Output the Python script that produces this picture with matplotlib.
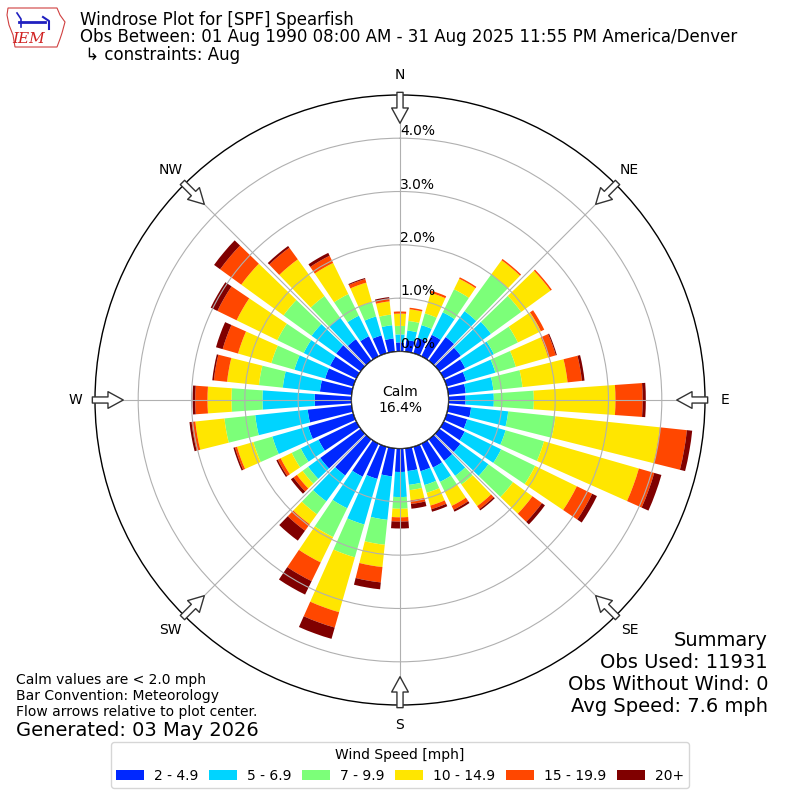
import numpy as np
import matplotlib
matplotlib.use("Agg")
import matplotlib.pyplot as plt
from matplotlib.patches import Circle, Polygon

# direction bins (degrees, meteorological "from")
directions = np.arange(0, 360, 10)

# cumulative frequency (%) at the top of each speed bin
cum_2_5 = [0.17, 0.22, 0.30, 0.45, 0.55, 0.50, 0.45, 0.38, 0.33, 0.32, 0.43, 0.40,
           0.44, 0.49, 0.50, 0.50, 0.48, 0.43, 0.44, 0.53, 0.63, 0.69, 0.84, 0.94,
           0.79, 0.88, 0.83, 0.69, 0.60, 0.55, 0.55, 0.57, 0.50, 0.42, 0.35, 0.25]
cum_5_7 = [0.32, 0.40, 0.55, 0.92, 1.15, 1.20, 1.05, 0.95, 0.85, 0.85, 1.13, 1.15,
           1.20, 1.14, 0.85, 0.80, 0.75, 0.69, 0.91, 1.35, 1.52, 1.35, 1.44, 1.22,
           1.16, 1.58, 1.82, 1.67, 1.30, 1.15, 1.10, 1.14, 1.00, 0.85, 0.72, 0.50]
cum_7_10 = [0.48, 0.58, 0.78, 1.40, 2.00, 1.90, 1.55, 1.35, 1.40, 1.60, 2.02, 1.90,
            1.91, 1.71, 1.05, 1.00, 0.90, 0.79, 1.13, 1.82, 2.16, 1.95, 1.74, 1.35,
            1.35, 1.95, 2.40, 2.25, 1.75, 1.60, 1.65, 1.79, 1.50, 1.30, 1.00, 0.70]
cum_10_15 = [0.71, 0.80, 1.18, 1.62, 2.33, 2.58, 2.03, 1.98, 2.25, 3.13, 3.99, 3.75,
             2.78, 2.16, 1.55, 1.30, 1.15, 0.98, 1.29, 2.24, 3.23, 2.48, 1.97, 1.48,
             1.58, 2.27, 2.95, 2.70, 2.35, 2.25, 2.50, 2.77, 2.35, 1.95, 1.38, 0.95]
cum_15_20 = [0.75, 0.83, 1.22, 1.65, 2.36, 2.61, 2.10, 2.13, 2.52, 3.64, 4.50, 4.05,
             3.10, 2.38, 1.62, 1.38, 1.22, 1.05, 1.37, 2.53, 3.53, 2.87, 2.12, 1.56,
             1.64, 2.31, 3.02, 2.93, 2.60, 2.55, 2.90, 3.26, 2.62, 2.10, 1.45, 1.00]
cum_20p = [0.75, 0.83, 1.22, 1.65, 2.36, 2.61, 2.10, 2.15, 2.57, 3.70, 4.60, 4.19,
           3.20, 2.45, 1.65, 1.42, 1.27, 1.14, 1.50, 2.66, 3.75, 3.15, 2.35, 1.62,
           1.67, 2.34, 3.06, 2.98, 2.63, 2.68, 3.04, 3.40, 2.66, 2.16, 1.47, 1.03]

speed_labels = ["2 - 4.9", "5 - 6.9", "7 - 9.9", "10 - 14.9", "15 - 19.9", "20+"]
colors = ["#0028ff", "#00d4ff", "#7cff79", "#ffe600", "#ff4700", "#800000"]

calm_pct = 16.4
rticks = [0, 1, 2, 3, 4]
compass = ["N", "NE", "E", "SE", "S", "SW", "W", "NW"]

fig = plt.figure(figsize=(8, 8), dpi=100)
ax = fig.add_axes([0.11875, 0.11875, 0.7625, 0.7625], projection="polar")
ax.set_theta_zero_location("N")
ax.set_theta_direction(-1)
ax.set_rorigin(-0.91)
ax.set_ylim(0, 4.81)

theta = np.radians(directions)
width = np.radians(8)
cums = [cum_2_5, cum_5_7, cum_7_10, cum_10_15, cum_15_20, cum_20p]
bottom = np.zeros(len(directions))
handles = []
for cum, color, label in zip(cums, colors, speed_labels):
    top = np.array(cum)
    b = ax.bar(theta, top - bottom, width=width, bottom=bottom, color=color,
               label=label, linewidth=0, zorder=2)
    handles.append(b)
    bottom = top

# grid on top of bars
ax.set_axisbelow(False)
ax.set_yticks(rticks)
ax.set_yticklabels([])
ax.set_xticks(np.radians(np.arange(0, 360, 45)))
ax.set_xticklabels([])
ax.grid(True, color="#b0b0b0", linewidth=0.8, zorder=3)
ax.spines["polar"].set_linewidth(1.0)

for r in rticks:
    ax.text(0, r, "%.1f%%" % r, ha="left", va="bottom", fontsize=10, zorder=6)

for i, lab in enumerate(compass):
    ang = np.radians(i * 45)
    ax.text(ang, 5.18, lab, ha="center", va="center", fontsize=10, clip_on=False)
    ax.annotate("", xy=(ang, 4.28), xytext=(ang, 4.86), xycoords="data",
                annotation_clip=False,
                arrowprops=dict(arrowstyle="simple,head_length=0.55,head_width=0.6,tail_width=0.22",
                                mutation_scale=20, facecolor="white", edgecolor="#333333",
                                linewidth=1, shrinkA=0, shrinkB=0, clip_on=False),
                zorder=7)

calm = Circle((0.5, 0.5), 48.5 / 610, transform=ax.transAxes, facecolor="white",
              edgecolor="black", linewidth=1, zorder=8)
ax.add_patch(calm)
ax.text(0.5, 0.5, "Calm\n%.1f%%" % calm_pct, transform=ax.transAxes, ha="center",
        va="center", fontsize=10, zorder=9)

# header
fig.text(0.1, 1 - 20 / 800, "Windrose Plot for [SPF] Spearfish", fontsize=12, va="center")
fig.text(0.1, 1 - 37 / 800,
         "Obs Between: 01 Aug 1990 08:00 AM - 31 Aug 2025 11:55 PM America/Denver",
         fontsize=12, va="center")
fig.text(0.1, 1 - 55 / 800, " \u21b3 constraints: Aug", fontsize=12, va="center")

# rough IEM logo
lax = fig.add_axes([5 / 800, 1 - 50 / 800, 62 / 800, 45 / 800])
lax.set_xlim(0, 62)
lax.set_ylim(45, 0)
lax.axis("off")
iowa = [(3, 3), (52, 3), (55, 10), (60, 17), (57, 28), (55, 34), (52, 42), (10, 42),
        (8, 30), (4, 20), (2, 10)]
lax.add_patch(Polygon(iowa, closed=True, fill=False, edgecolor="#d04040", linewidth=0.8))
lax.plot([14, 40], [17, 17], color="#2020c0", linewidth=2)
lax.plot([12, 16, 16], [8, 14, 22], color="#2020c0", linewidth=1.2)
lax.plot([38, 44, 44], [12, 16, 24], color="#2020c0", linewidth=1.5)
lax.text(24, 34, "IEM", color="#d02020", fontsize=11, fontstyle="italic",
         family="DejaVu Serif", ha="center", va="center")

# footer text
fig.text(0.02, 1 - 680 / 800, "Calm values are < 2.0 mph", fontsize=10, va="center")
fig.text(0.02, 1 - 696 / 800, "Bar Convention: Meteorology", fontsize=10, va="center")
fig.text(0.02, 1 - 712 / 800, "Flow arrows relative to plot center.", fontsize=10, va="center")
fig.text(0.02, 1 - 730 / 800, "Generated: 03 May 2026", fontsize=14, va="center")

summary = ["Summary", "Obs Used: 11931", "Obs Without Wind: 0", "Avg Speed: 7.6 mph"]
for i, line in enumerate(summary):
    fig.text(0.96, 1 - (640 + 22 * i) / 800, line, fontsize=14, ha="right", va="center")

fig.legend(handles=handles, labels=speed_labels, title="Wind Speed [mph]", ncol=6,
           loc="upper center", bbox_to_anchor=(0.5, 1 - 742 / 800), borderaxespad=0,
           fontsize=10, title_fontsize=10, handleheight=0.7, columnspacing=0.8,
           handletextpad=0.7)

fig.savefig("out.png", dpi=100)
